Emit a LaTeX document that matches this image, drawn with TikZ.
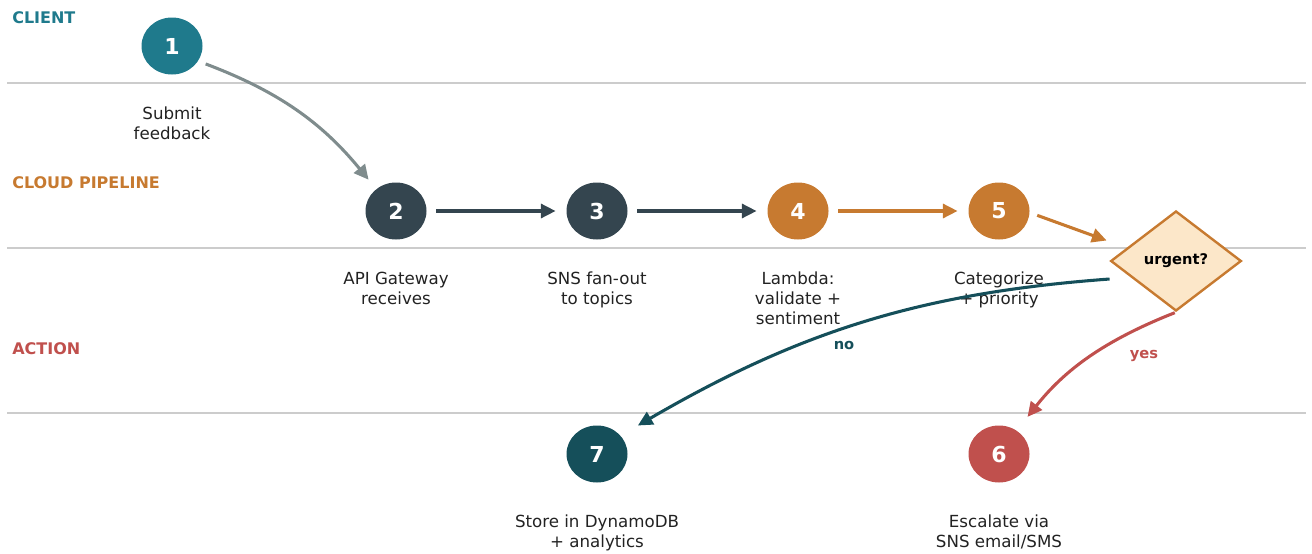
\documentclass[tikz,border=0pt]{standalone}
\usepackage{fontspec}
\setmainfont{DejaVu Sans}
\usetikzlibrary{positioning, shapes.geometric, arrows.meta}

\definecolor{clientteal}{HTML}{1F7A8C}
\definecolor{slate}{HTML}{34454F}
\definecolor{pipeorange}{HTML}{C77A30}
\definecolor{actionred}{HTML}{C0504D}
\definecolor{storeteal}{HTML}{154F5A}
\definecolor{arrowgray}{HTML}{7F8C8D}
\definecolor{lanegray}{HTML}{CCCCCC}
\definecolor{textgray}{HTML}{222222}
\definecolor{decisionfill}{HTML}{FCE7C9}

\tikzset{
  stagecircle/.style={ellipse, minimum width=45.75pt, minimum height=42.75pt,
    inner sep=0pt, text=white, font=\fontsize{16.5}{18}\selectfont\bfseries},
  decision/.style={diamond, aspect=1.31, minimum width=98pt, minimum height=75pt,
    inner sep=0pt, draw=pipeorange, line width=1.8pt, fill=decisionfill,
    font=\fontsize{11}{13}\selectfont\bfseries},
  stagelabel/.style={inner sep=0pt, align=center, text=textgray,
    font=\fontsize{12.5}{15}\selectfont},
  lanelabel/.style={anchor=west, inner sep=0pt, font=\fontsize{12}{14}\selectfont\bfseries},
  branchlabel/.style={inner sep=0pt, font=\fontsize{11}{13}\selectfont\bfseries},
  lane/.style={line width=1.5pt, color=lanegray},
  flow/.style={line width=2.3pt, -{Triangle[length=11pt,width=10.5pt]}},
}

\begin{document}
\begin{tikzpicture}[x=0.75pt, y=-0.75pt]
  \useasboundingbox (0,0) rectangle (1312,553);

  % swim lanes
  \draw[lane] (7,83) -- (1306,83);
  \draw[lane] (7,248) -- (1306,248);
  \draw[lane] (7,413) -- (1306,413);
  \node[lanelabel, text=clientteal] (lclient) at (12,18) {CLIENT};
  \node[lanelabel, text=pipeorange] (lcloud) at (12,183) {CLOUD PIPELINE};
  \node[lanelabel, text=actionred] (laction) at (12,349) {ACTION};

  % stages
  \node[stagecircle, fill=clientteal] (n1) at (172,46) {1};
  \node[stagecircle, fill=slate] (n2) at (396,211) {2};
  \node[stagecircle, fill=slate] (n3) at (597,211) {3};
  \node[stagecircle, fill=pipeorange] (n4) at (798,211) {4};
  \node[stagecircle, fill=pipeorange] (n5) at (999,211) {5};
  \node[decision] (urgent) at (1176,261) {urgent?};
  \node[stagecircle, fill=storeteal] (n7) at (597,454) {7};
  \node[stagecircle, fill=actionred] (n6) at (999,454) {6};

  % captions
  \node[stagelabel, below=24pt of n1] (c1) {Submit\\feedback};
  \node[stagelabel, below=24pt of n2] (c2) {API Gateway\\receives};
  \node[stagelabel, below=24pt of n3] (c3) {SNS fan-out\\to topics};
  \node[stagelabel, below=24pt of n4] (c4) {Lambda:\\validate +\\sentiment};
  \node[stagelabel, below=24pt of n5] (c5) {Categorize\\+ priority};
  \node[stagelabel, below=24pt of n7] (c7) {Store in DynamoDB\\+ analytics};
  \node[stagelabel, below=24pt of n6] (c6) {Escalate via\\SNS email/SMS};

  % flow
  \draw[flow, color=arrowgray, shorten <=6pt, shorten >=9pt] (n1.-30) to[bend left=15] (n2.132);
  \draw[flow, color=slate, shorten <=7pt, shorten >=8pt] (n2) -- (n3);
  \draw[flow, color=slate, shorten <=7pt, shorten >=8pt] (n3) -- (n4);
  \draw[flow, color=pipeorange, shorten <=7pt, shorten >=8pt] (n4) -- (n5);
  \draw[flow, color=pipeorange, shorten <=6pt, shorten >=16pt] (n5.-3) -- (urgent.165);
  \draw[flow, color=storeteal, shorten <=16pt, shorten >=15pt] (urgent.200) to[bend right=13] (n7.38);
  \draw[flow, color=actionred, shorten <=1pt, shorten >=13pt] (urgent.south) to[bend right=15] (n6.53);

  % branch labels
  \node[branchlabel, text=storeteal] (lno) at (844,345) {no};
  \node[branchlabel, text=actionred] (lyes) at (1144,356) {yes};
\end{tikzpicture}
\end{document}
